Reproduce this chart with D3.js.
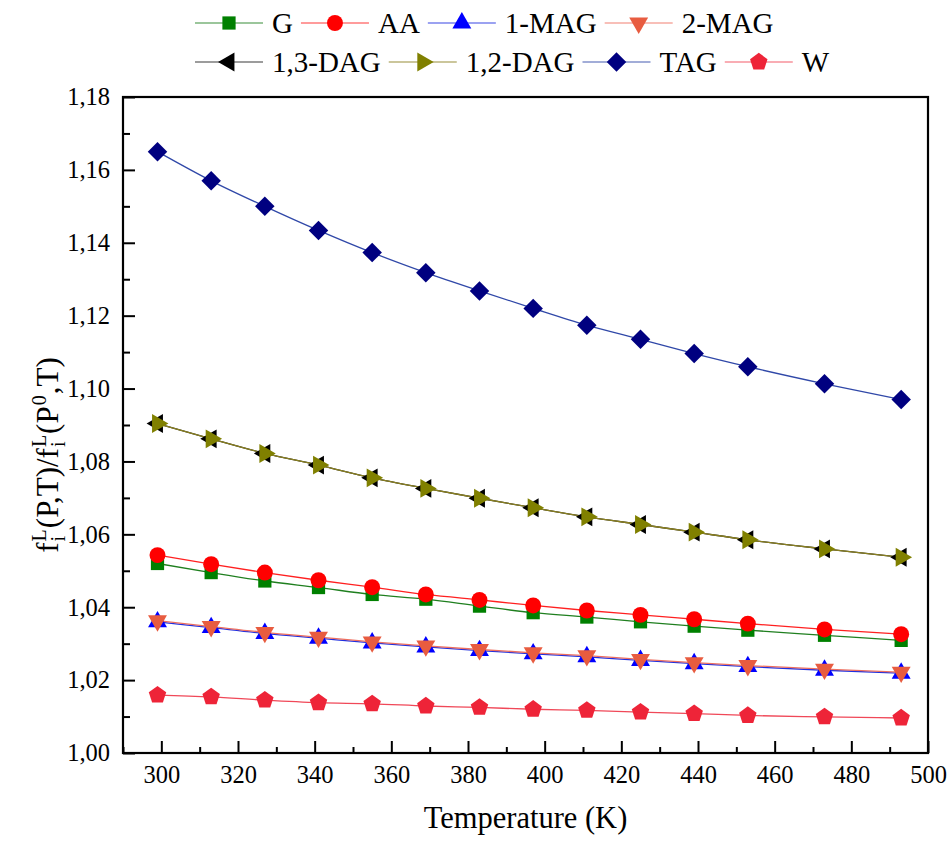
<!DOCTYPE html>
<html>
<head>
<meta charset="utf-8">
<script src="https://cdn.jsdelivr.net/npm/d3@7"></script>
<style>
  html, body { margin: 0; padding: 0; background: #fff; }
  svg { display: block; }
  text { font-family: "Liberation Serif", "DejaVu Serif", serif; fill: #000; }
</style>
</head>
<body>
<svg id="chart" width="950" height="841"></svg>
<script>
// ---- data ----
const temperatures = [299, 313, 327, 341, 355, 369, 383, 397, 411, 425, 439, 453, 473, 493];
const seriesNames = ["G", "AA", "1-MAG", "2-MAG", "1,3-DAG", "1,2-DAG", "TAG", "W"];
const valuesG     = [1.0520, 1.0495, 1.0472, 1.0454, 1.0435, 1.0422, 1.0403, 1.0385, 1.0373, 1.0360, 1.0348, 1.0337, 1.0323, 1.0309];
const valuesAA    = [1.0543, 1.0518, 1.0495, 1.0474, 1.0455, 1.0435, 1.0420, 1.0405, 1.0391, 1.0379, 1.0367, 1.0355, 1.0339, 1.0326];
const values1MAG  = [1.0360, 1.0344, 1.0328, 1.0315, 1.0302, 1.0291, 1.0281, 1.0272, 1.0264, 1.0254, 1.0245, 1.0237, 1.0227, 1.0219];
const values2MAG  = [1.0363, 1.0347, 1.0331, 1.0318, 1.0305, 1.0294, 1.0284, 1.0275, 1.0267, 1.0257, 1.0248, 1.0240, 1.0230, 1.0222];
const values13DAG = [1.0904, 1.0862, 1.0822, 1.0790, 1.0755, 1.0726, 1.0699, 1.0673, 1.0648, 1.0627, 1.0606, 1.0585, 1.0560, 1.0537];
const values12DAG = [1.0904, 1.0862, 1.0822, 1.0790, 1.0755, 1.0726, 1.0699, 1.0673, 1.0648, 1.0627, 1.0606, 1.0585, 1.0560, 1.0537];
const valuesTAG   = [1.1650, 1.1570, 1.1500, 1.1434, 1.1373, 1.1318, 1.1268, 1.1220, 1.1174, 1.1135, 1.1096, 1.1060, 1.1013, 1.0970];
const valuesW     = [1.0159, 1.0154, 1.0145, 1.0138, 1.0135, 1.0129, 1.0125, 1.0120, 1.0117, 1.0112, 1.0108, 1.0103, 1.0099, 1.0096];
const xTickValues = [300, 320, 340, 360, 380, 400, 420, 440, 460, 480, 500];
const yTickValues = [1.00, 1.02, 1.04, 1.06, 1.08, 1.10, 1.12, 1.14, 1.16, 1.18];
const xTitle = "Temperature (K)";

// ---- styles ----
const allValues = [valuesG, valuesAA, values1MAG, values2MAG, values13DAG, values12DAG, valuesTAG, valuesW];
const lineColors   = ["#1f7f1f", "#ff2020", "#2030e0", "#ee7060", "#222222", "#8a8020", "#3048a8", "#f04858"];
const markerColors = ["#008000", "#ff0000", "#0000ff", "#e85c40", "#000000", "#808000", "#000080", "#ee2438"];

const pentagon = {
  draw(ctx, size) {
    const r = Math.sqrt(size / 2.378);
    for (let i = 0; i < 5; i++) {
      const a = -Math.PI / 2 + i * 2 * Math.PI / 5;
      const px = r * Math.cos(a), py = r * Math.sin(a);
      if (i === 0) ctx.moveTo(px, py); else ctx.lineTo(px, py);
    }
    ctx.closePath();
  }
};
const markerDefs = [
  { type: d3.symbolSquare, size: 175, rot: 0 },
  { type: d3.symbolCircle, size: 200, rot: 0 },
  { type: d3.symbolTriangle, size: 155, rot: 0 },
  { type: d3.symbolTriangle, size: 155, rot: 180 },
  { type: d3.symbolTriangle, size: 155, rot: -90 },
  { type: d3.symbolTriangle, size: 155, rot: 90 },
  { type: d3.symbolSquare, size: 190, rot: 45 },
  { type: pentagon, size: 200, rot: 0 }
];

const svg = d3.select("#chart");
const x = d3.scaleLinear().domain([290, 500]).range([123, 928]);
const y = d3.scaleLinear().domain([1.00, 1.18]).range([753, 97]);

const locale = d3.formatLocale({ decimal: ",", thousands: ".", grouping: [3], currency: ["", ""] });
const yFmt = locale.format(".2f");

// minor ticks
const xMinor = d3.range(290, 501, 10).filter(v => v % 20 !== 0);
const yMinor = d3.range(0, 19).map(i => +(1 + i * 0.01).toFixed(2)).filter((v, i) => i % 2 === 1);

const tickFont = "24.5px";
const serif = "Liberation Serif";

svg.append("g").attr("transform", `translate(0,${y(1.00)})`)
  .call(d3.axisBottom(x).tickValues(xMinor).tickSize(-6).tickFormat(""))
  .call(g => g.select(".domain").remove());
const xAxisG = svg.append("g").attr("transform", `translate(0,${y(1.00)})`)
  .call(d3.axisBottom(x).tickValues(xTickValues).tickSize(-12).tickPadding(13).tickFormat(d3.format("d")))
  .call(g => g.select(".domain").remove())
  .attr("font-family", serif).attr("font-size", tickFont);
xAxisG.selectAll("text").style("font-size", tickFont).style("font-family", serif);

svg.append("g").attr("transform", "translate(123,0)")
  .call(d3.axisLeft(y).tickValues(yMinor).tickSize(-7).tickFormat(""))
  .call(g => g.select(".domain").remove());
const yAxisG = svg.append("g").attr("transform", "translate(123,0)")
  .call(d3.axisLeft(y).tickValues(yTickValues).tickSize(-12).tickPadding(13).tickFormat(yFmt))
  .call(g => g.select(".domain").remove())
  .attr("font-family", serif).attr("font-size", tickFont);
yAxisG.selectAll("text").style("font-size", tickFont).style("font-family", serif);

svg.selectAll(".tick line").attr("stroke", "#000").attr("stroke-width", 2);

// frame
svg.append("rect")
  .attr("x", x(290)).attr("y", y(1.18))
  .attr("width", x(500) - x(290)).attr("height", y(1.00) - y(1.18))
  .attr("fill", "none").attr("stroke", "#000").attr("stroke-width", 2.2);

// series
const line = d3.line().x((d, i) => x(temperatures[i])).y(d => y(d)).curve(d3.curveMonotoneX);
allValues.forEach((vals, s) => {
  svg.append("path").datum(vals)
    .attr("d", line).attr("fill", "none")
    .attr("stroke", lineColors[s]).attr("stroke-width", 1.3);
});
allValues.forEach((vals, s) => {
  const m = markerDefs[s];
  const sym = d3.symbol().type(m.type).size(m.size);
  svg.append("g").selectAll("path").data(vals).join("path")
    .attr("d", sym)
    .attr("transform", (d, i) => `translate(${x(temperatures[i])},${y(d)}) rotate(${m.rot})`)
    .attr("fill", markerColors[s]);
});

// legend
const legendRows = [[0, 1, 2, 3], [4, 5, 6, 7]];
const rowY = [23, 62];
const legendFont = 29;
const legendLine = 68;
legendRows.forEach((row, r) => {
  let cx = 195;
  row.forEach(s => {
    const g = svg.append("g");
    g.append("line").attr("x1", cx).attr("x2", cx + legendLine).attr("y1", rowY[r]).attr("y2", rowY[r])
      .attr("stroke", lineColors[s]).attr("stroke-width", 1.6).attr("stroke-opacity", 0.6);
    const m = markerDefs[s];
    g.append("path").attr("d", d3.symbol().type(m.type).size(m.size)())
      .attr("transform", `translate(${cx + legendLine / 2},${rowY[r]}) rotate(${m.rot})`)
      .attr("fill", markerColors[s]);
    const t = g.append("text").attr("x", cx + legendLine + 9).attr("y", rowY[r] + 9.5)
      .style("font-size", legendFont + "px").text(seriesNames[s]);
    cx = cx + legendLine + 9 + t.node().getComputedTextLength() + 8;
  });
});

// x title
svg.append("text").attr("x", (x(290) + x(500)) / 2).attr("y", 828)
  .attr("text-anchor", "middle").style("font-size", "30.5px").text(xTitle);

// y title with super/subscripts
const yt = svg.append("g").attr("transform", "translate(58,455) rotate(-90)");
const mainSize = 31, smallSize = 20;
const pieces = [
  { t: "f" },
  { sup: "L", sub: "i" },
  { t: "(P,T)/f" },
  { sup: "L", sub: "i" },
  { t: "(P" },
  { sup: "0" },
  { t: ",T)" }
];
let cursor = 0;
const placed = [];
pieces.forEach(p => {
  if (p.t) {
    const el = yt.append("text").attr("x", cursor).attr("y", 0).style("font-size", mainSize + "px").text(p.t);
    placed.push(el);
    cursor += el.node().getComputedTextLength();
  } else {
    let w = 0;
    if (p.sup) {
      const el = yt.append("text").attr("x", cursor + 1).attr("y", -12).style("font-size", smallSize + "px").text(p.sup);
      placed.push(el); w = Math.max(w, el.node().getComputedTextLength());
    }
    if (p.sub) {
      const el = yt.append("text").attr("x", cursor + 1).attr("y", 7).style("font-size", smallSize + "px").text(p.sub);
      placed.push(el); w = Math.max(w, el.node().getComputedTextLength());
    }
    cursor += w + 2;
  }
});
placed.forEach(el => el.attr("x", +el.attr("x") - cursor / 2));
</script>
</body>
</html>
